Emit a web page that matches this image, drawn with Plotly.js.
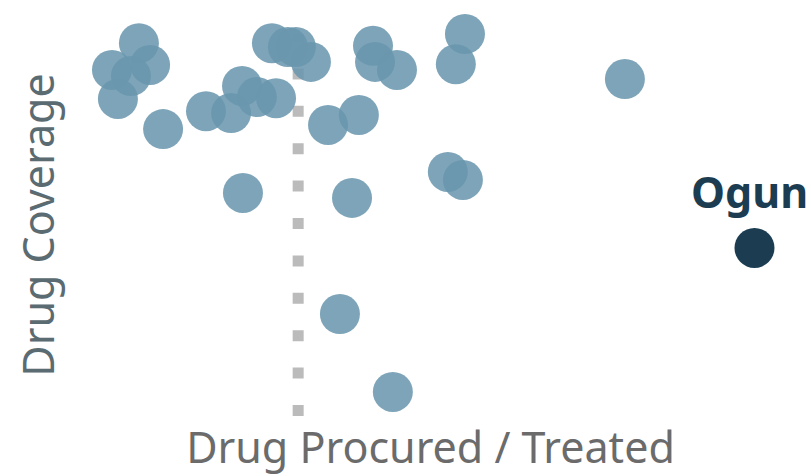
<!DOCTYPE html>
<html>
<head>
<meta charset="utf-8">
<script src="https://cdn.plot.ly/plotly-3.0.1.min.js"></script>
<style>html,body{margin:0;padding:0;background:#fff;}#chart{width:811px;height:476px;}</style>
</head>
<body>
<div id="chart"></div>
<script>
// Drug procured / treated ratio (x) and drug coverage % (y) per state
const procuredRatio = [0.302, 0.184, 0.351, 0.267, 0.210, 0.408, 0.596, 0.706, 0.754, 0.819,
  0.903, 0.885, 0.955, 0.990, 1.056, 1.131, 1.266, 1.328, 1.337, 1.433,
  1.731, 1.691, 0.758, 1.236, 1.656, 1.722, 2.432, 1.183, 1.415];
const coverage = [97.6, 90.6, 91.9, 89.0, 83.0, 75.1, 79.8, 79.3, 86.4, 83.5,
  83.2, 97.6, 96.6, 96.6, 92.7, 76.2, 78.8, 96.9, 92.7, 90.6,
  100.0, 92.1, 58.4, 57.1, 63.9, 61.8, 88.2, 26.7, 6.3];
const highlightName = ["Ogun"];
const highlightX = [3.00];
const highlightY = [44.0];
const refX = [1.0, 1.0];
const refY = [0, 100];

const traces = [
  {x: refX, y: refY, mode: 'lines', hoverinfo: 'skip',
   line: {color: '#bbbbbb', width: 11, dash: '11px,26.4px'}, cliponaxis: false},
  {x: procuredRatio, y: coverage, mode: 'markers', cliponaxis: false,
   marker: {size: 40, color: 'rgb(106,151,173)', opacity: 0.87, line: {width: 0}}},
  {x: highlightX, y: highlightY, mode: 'markers', cliponaxis: false, text: highlightName,
   marker: {size: 40, color: '#1c3d51', line: {width: 0}}}
];

const layout = {
  width: 811, height: 476,
  margin: {l: 70, r: 20, t: 34, b: 60},
  paper_bgcolor: '#fff', plot_bgcolor: '#fff',
  showlegend: false,
  font: {family: 'Noto Sans, Open Sans, sans-serif'},
  xaxis: {range: [0, 3.16], showgrid: false, zeroline: false, showticklabels: false, showline: false, ticks: '',
    automargin: false,
    title: {text: 'Drug Procured / Treated', font: {size: 43, color: '#6b6b6b'}, standoff: 20}},
  yaxis: {range: [0, 100], showgrid: false, zeroline: false, showticklabels: false, showline: false, ticks: '',
    automargin: false,
    title: {text: 'Drug Coverage', font: {size: 43, color: '#5b6b72'}, standoff: 0}},
  annotations: [{x: highlightX[0], y: highlightY[0], text: '<b>' + highlightName[0] + '</b>',
    showarrow: false, yshift: 56, xshift: -5, font: {size: 43, color: '#1c3d51'}}]
};
Plotly.newPlot('chart', traces, layout, {displayModeBar: false, staticPlot: true});
</script>
</body>
</html>
